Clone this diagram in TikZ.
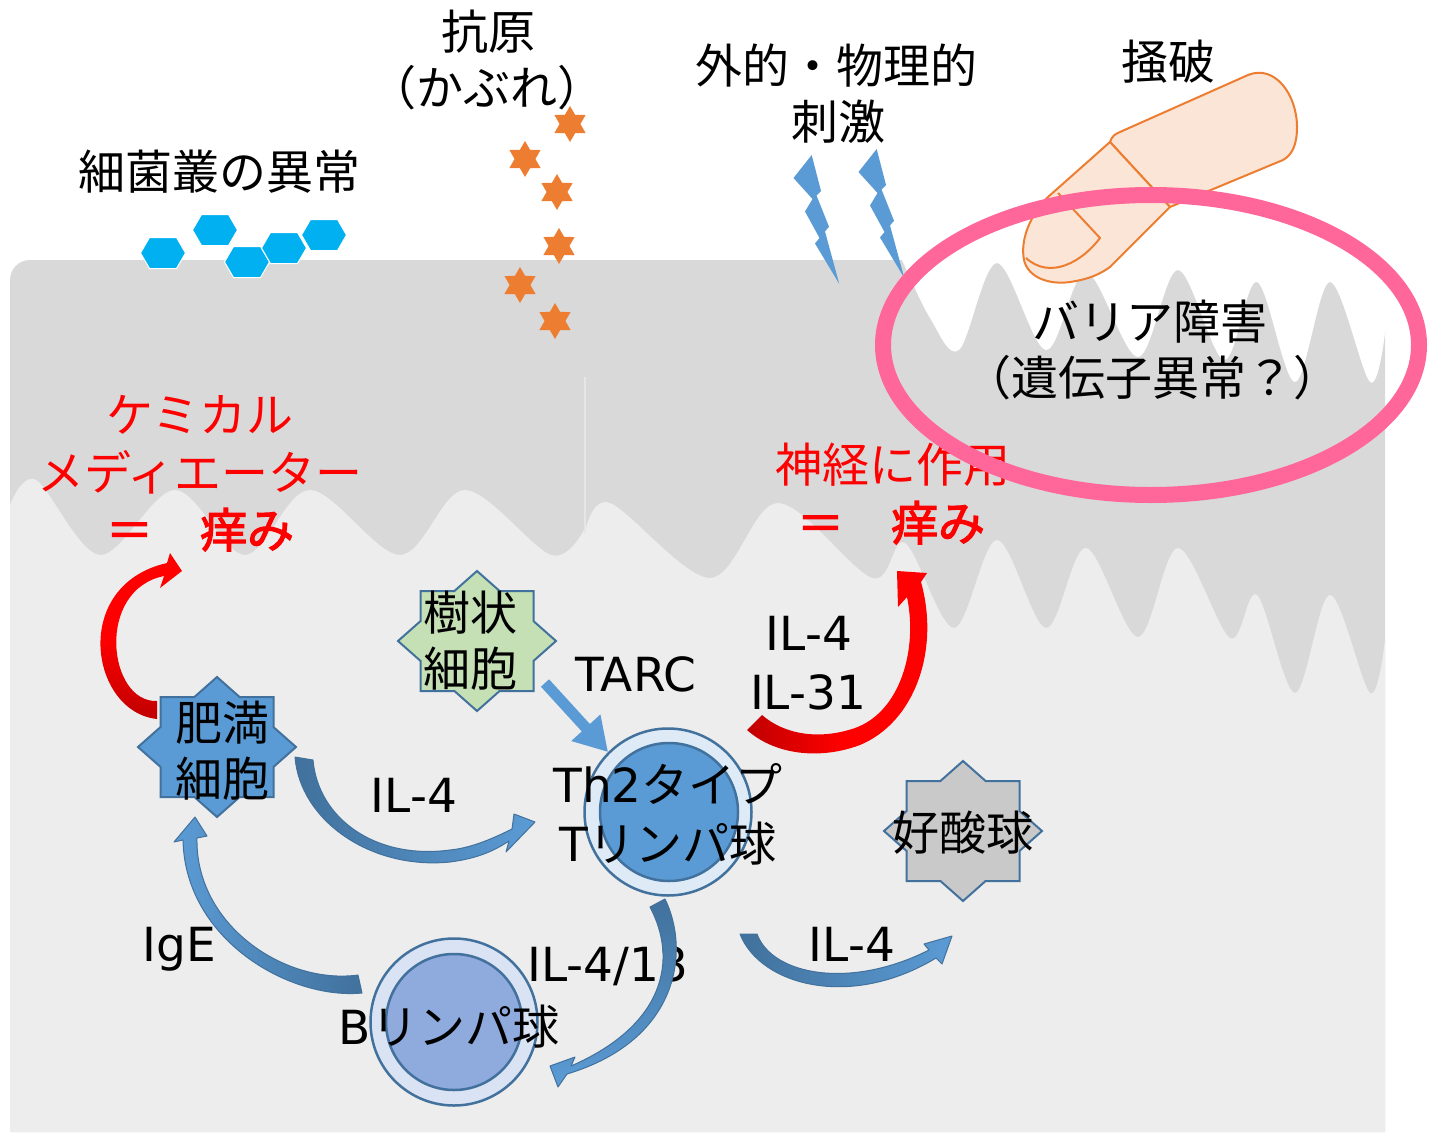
\documentclass[tikz,border=0pt]{standalone}
\usepackage{fontspec}
\setmainfont{DejaVu Sans}
\newfontfamily\jp{Noto Sans CJK JP}[AutoFakeBold=2.5]
\newfontfamily\lat{DejaVu Sans}
\usetikzlibrary{arrows.meta}

\definecolor{skindark}{HTML}{D9D9D9}
\definecolor{skinlight}{HTML}{EDEDED}
\definecolor{seam}{HTML}{E6E6E6}
\definecolor{bacteria}{HTML}{00B0F0}
\definecolor{antigen}{HTML}{ED7D31}
\definecolor{boltblue}{HTML}{5B9BD5}
\definecolor{cellline}{HTML}{41719C}
\definecolor{cellblue}{HTML}{5B9BD5}
\definecolor{ringblue}{HTML}{DEEBF7}
\definecolor{bring}{HTML}{DAE3F3}
\definecolor{bcore}{HTML}{8FAADC}
\definecolor{dcgreen}{HTML}{C5E0B4}
\definecolor{eosgray}{HTML}{C9C9C9}
\definecolor{fingerfill}{HTML}{FBE5D6}
\definecolor{fingerline}{HTML}{ED7D31}
\definecolor{barrier}{HTML}{FF6699}
\definecolor{itchred}{HTML}{FF0000}
\definecolor{itchdark}{HTML}{C00000}
\definecolor{arrowdark}{HTML}{41719C}
\definecolor{arrowlight}{HTML}{5B9BD5}

\tikzset{
  txt/.style={inner sep=0pt, text height=41pt, text depth=6pt,
    font=\fontsize{47}{56}\selectfont\jp},
  lattxt/.style={txt, font=\fontsize{47}{56}\selectfont\lat},
  redtxt/.style={txt, text=itchred},
  redbold/.style={txt, text=itchred, font=\fontsize{47}{56}\selectfont\jp\bfseries},
  blockarrow/.style={draw=cellline, line width=1pt, line join=round},
  cellstar/.pic={\path[pic actions] (79,0) -- (56.5,19.9) -- (56.5,50) -- (22.6,50)
    -- (0,70) -- (-22.6,50) -- (-56.5,50) -- (-56.5,19.9) -- (-79,0)
    -- (-56.5,-19.9) -- (-56.5,-50) -- (-22.6,-50) -- (0,-70) -- (22.6,-50)
    -- (56.5,-50) -- (56.5,-19.9) -- cycle;},
  bacterium/.pic={\path[fill=bacteria, draw=white, line width=1pt]
    (-22.5,0) -- (-13.5,-15.5) -- (13.5,-15.5) -- (22.5,0) -- (13.5,15.5)
    -- (-13.5,15.5) -- cycle;},
  antigenstar/.pic={\fill[antigen] (90:18) -- (60:10.4) -- (30:18) -- (0:10.4)
    -- (-30:18) -- (-60:10.4) -- (-90:18) -- (-120:10.4) -- (-150:18)
    -- (180:10.4) -- (150:18) -- (120:10.4) -- cycle;},
  lightning/.pic={\fill[boltblue] (811.7,155) -- (821,191) -- (816.5,195.5)
    -- (829,226.7) -- (825,231.5) -- (839.3,284) -- (815,243.5)
    -- (819.5,238) -- (805,211.5) -- (812.5,199) -- (793.5,178) -- cycle;},
}

\begin{document}
\begin{tikzpicture}[x=1pt, y=-1pt]
\useasboundingbox (0,0) rectangle (1429,1132);
\fill[white] (0,0) rectangle (1429,1132);

% skin: upper (dark) layer
\fill[skindark] (10,1132) {[rounded corners=20pt] -- (10,260) -- (1385,260)} -- (1385,1132) -- cycle;
% damaged surface of the barrier
\fill[white] (895,250) -- plot[smooth, tension=0.55] coordinates {(902,260) (930,318) (959,350)
  (997,263) (1046,350) (1086,272) (1138,357) (1178,270) (1224,360) (1257,282) (1295,382)
  (1330,282) (1370,382) (1385,333)} -- (1395,250) -- cycle;
% skin: lower (light) layer
\fill[skinlight] (10,1132) -- plot[smooth, tension=0.55] coordinates {(10,505) (36,480)
  (100,555) (175,490) (245,555) (310,490) (400,555) (465,490) (551,555) (585,528)}
  -- plot[smooth, tension=0.55] coordinates {(585,533) (610,503) (710,578) (778,503)
  (872,578) (905,543) (954,628) (997,540) (1046,628) (1086,548) (1138,637) (1178,548)
  (1230,638) (1257,595) (1295,693) (1330,595) (1370,693) (1385,640)}
  -- (1385,1132) -- cycle;
\draw[seam, line width=1.2pt] (585,377) -- (585,533);

% bacteria
\pic at (163,253) {bacterium};
\pic at (215,230) {bacterium};
\pic at (247,262) {bacterium};
\pic at (284,248) {bacterium};
\pic at (324,235) {bacterium};

% antigens
\pic at (570,124) {antigenstar};
\pic at (525,159) {antigenstar};
\pic at (557,192) {antigenstar};
\pic at (559,246) {antigenstar};
\pic at (520,285) {antigenstar};
\pic at (555,321) {antigenstar};

% external stimuli
\pic at (0,0) {lightning};
\pic at (65,-6) {lightning};

% scratching finger
\filldraw[fill=fingerfill, draw=fingerline, line width=2pt, line join=round]
  (1110,142) .. controls (1112,136) and (1115,134) .. (1120,132) -- (1248,75)
  .. controls (1275,64) and (1297,95) .. (1297,127)
  .. controls (1297,145) and (1292,155) .. (1283,160) -- (1170,207) -- cycle;
\filldraw[fill=fingerfill, draw=fingerline, line width=2pt, line join=round]
  (1110,142) -- (1048,197) .. controls (1030,215) and (1020,240) .. (1024,260)
  .. controls (1028,278) and (1050,285) .. (1070,282)
  .. controls (1090,279) and (1100,274) .. (1110,267) -- (1170,207) -- cycle;
\draw[fingerline, line width=2pt, line join=round]
  (1058,193) -- (1100,238) .. controls (1082,262) and (1050,280) .. (1026,258);

% labels above the skin
\node[txt] (kogen) at (488,32) {抗原};
\node[txt] (kabure) at (487,88) {（かぶれ）};
\node[txt] (gaiteki) at (836,66) {外的・物理的};
\node[txt] (shigeki) at (838,122) {刺激};
\node[txt] (sohha) at (1168,62) {掻破};
\node[txt] (saikin) at (219,172) {細菌叢の異常};
\node[txt] (barrier1) at (1150,322) {バリア障害};
\node[txt] (barrier2) at (1152,378) {（遺伝子異常？）};

% itch labels
\node[redtxt] (chem1) at (200,415) {ケミカル};
\node[redtxt] (chem2) at (200,473) {メディエーター};
\node[redbold] (itchL) at (200,530) {＝　痒み};
\node[redtxt] (nerve) at (893,465) {神経に作用};
\node[redbold] (itchR) at (891,523) {＝　痒み};

% cells drawn as stars
\pic[draw=cellline, fill=cellblue, line width=2pt] at (217,747) {cellstar};
\pic[draw=cellline, fill=dcgreen, line width=2pt] at (477,641) {cellstar};
\pic[draw=cellline, fill=eosgray, line width=2pt] at (963,831) {cellstar};

% red curved arrows towards itch
\shade[top color=itchred, bottom color=itchdark, middle color=itchred]
  (157,719) .. controls (90,712) and (70,585) .. (167,563) -- (170,553) -- (182,571)
  -- (160,588) -- (164,576) .. controls (95,590) and (108,703) .. (157,701) -- cycle;
\shade[left color=itchdark, right color=itchred, middle color=itchred]
  (747,730) .. controls (775,755) and (820,760) .. (860,745)
  .. controls (915,722) and (940,650) .. (921,582) -- (927,573) -- (897,571)
  -- (898,607) -- (907,597) .. controls (918,650) and (900,712) .. (855,728)
  .. controls (820,740) and (785,735) .. (762,715) -- cycle;

% blue curved arrows
\shadedraw[blockarrow, left color=arrowdark, right color=arrowlight]
  (295,757) .. controls (300,820) and (370,870) .. (450,862)
  .. controls (480,858) and (495,850) .. (509,841) -- (506,852) -- (535,822)
  -- (514,814) -- (512,829) .. controls (490,840) and (470,848) .. (450,850)
  .. controls (375,860) and (318,818) .. (313,760) -- cycle;
\shadedraw[blockarrow, left color=arrowlight, right color=arrowdark]
  (362,993) .. controls (290,1000) and (185,940) .. (183,840) -- (174,842)
  -- (195,817) -- (207,836) -- (197,838) .. controls (195,925) and (285,985) .. (358,975) -- cycle;
\shadedraw[blockarrow, left color=arrowdark, right color=arrowlight]
  (740,934) .. controls (760,985) and (850,1010) .. (936,958) -- (942,964)
  -- (952,936) -- (924,944) -- (929,950) .. controls (850,990) and (772,975) .. (757,934) -- cycle;

% lymphocytes
\node[circle, minimum size=167pt, inner sep=0pt, draw=cellline, line width=2.5pt, fill=ringblue] (th2) at (668,812) {};
\node[circle, minimum size=138pt, inner sep=0pt, draw=cellline, line width=2.5pt, fill=cellblue] (th2core) at (669,812) {};
\node[circle, minimum size=167pt, inner sep=0pt, draw=cellline, line width=2.5pt, fill=bring] (bcell) at (454,1022) {};
\node[circle, minimum size=136pt, inner sep=0pt, draw=cellline, line width=2.5pt, fill=bcore] (bcore) at (454,1022) {};

% TARC from the dendritic cell
\coordinate (dcout) at (545,683);
\draw[boltblue, line width=11pt, -{Triangle[length=33pt, width=37pt]}] (dcout) -- (th2.north west);

% cell names
\node[txt] (mast1) at (222,723) {肥満};
\node[txt] (mast2) at (222,779) {細胞};
\node[txt] (dc1) at (470,613) {樹状};
\node[txt] (dc2) at (470,669) {細胞};
\node[txt] (eos) at (963,833) {好酸球};
\node[txt] (th2a) at (668,785) {{\lat Th2}タイプ};
\node[txt] (th2b) at (668,844) {{\lat T}リンパ球};
\node[txt] (bname) at (449,1027) {{\lat B}リンパ球};

% cytokine labels
\node[lattxt] (tarc) at (636,674) {TARC};
\node[lattxt] (il4a) at (809,633) {IL-4};
\node[lattxt] (il31) at (808,692) {IL-31};
\node[lattxt] (il4b) at (414,795) {IL-4};
\node[lattxt] (ige) at (179,944) {IgE};
\node[lattxt] (il413) at (608,964) {IL-4/13};
\node[lattxt] (il4c) at (852,944) {IL-4};

% IL-4/13 arrow from the Th2 cell to the B cell
\shadedraw[blockarrow, top color=arrowdark, bottom color=arrowlight]
  (665,899) .. controls (690,950) and (680,1040) .. (567,1074) -- (558,1087)
  -- (550,1066) -- (575,1057) -- (571,1066) .. controls (665,1025) and (678,960) .. (650,907) -- cycle;

% barrier defect
\draw[barrier, line width=16pt] (1151,345) ellipse [x radius=268pt, y radius=150pt];
\end{tikzpicture}
\end{document}
